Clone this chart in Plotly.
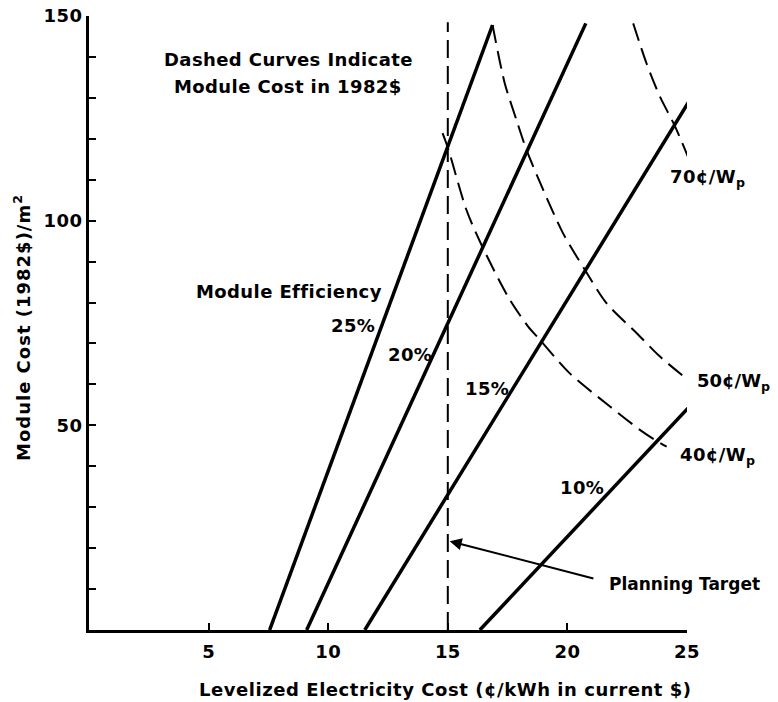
import plotly.graph_objects as go

# ---- data ----
eff_labels = ["25%", "20%", "15%", "10%"]
eff_x = [[7.55, 16.87], [9.1, 20.77], [11.53, 25.08], [16.34, 25.04]]
eff_y = [[0, 147.8], [0, 148.2], [0, 129.1], [0, 54.2]]

c40_x = [14.78, 15.01, 15.78, 16.44, 17.52, 18.36, 18.85, 20.1, 21.78, 23.03, 23.7, 24.15]
c40_y = [121.4, 117.7, 102.6, 93.7, 81.4, 74.1, 70.9, 62.7, 54.6, 48.9, 46.3, 44.8]
c50_x = [16.87, 17.38, 17.87, 18.29, 18.99, 19.82, 20.73, 21.64, 22.9, 23.87, 25.04]
c50_y = [147.8, 133.6, 124.6, 117.3, 107.5, 96.9, 88.0, 79.8, 72.5, 66.8, 61.1]
c70_x = [22.75, 23.31, 23.87, 24.47, 25.13]
c70_y = [148.2, 138.4, 130.3, 123.4, 114.4]

target_x = [15, 15]
target_y = [0, 148.5]

x_ticks = [5, 10, 15, 20, 25]
y_ticks = [50, 100, 150]

FONT = "DejaVu Sans"
PX_PER_X = 598 / 25  # plot width / x range


def sp(t, ls=0.4):
    return f"<span style='letter-spacing:{ls}px'><b>{t}</b></span>"


fig = go.Figure()
for xs, ys in zip(eff_x, eff_y):
    fig.add_trace(go.Scatter(x=xs, y=ys, mode="lines",
                             line=dict(color="black", width=3.5)))
for xs, ys in [(c40_x, c40_y), (c50_x, c50_y), (c70_x, c70_y)]:
    fig.add_trace(go.Scatter(x=xs, y=ys, mode="lines",
                             line=dict(color="black", width=2, dash="18px,8px",
                                       shape="spline", smoothing=0.8)))
fig.add_trace(go.Scatter(x=target_x, y=target_y, mode="lines",
                         line=dict(color="black", width=2, dash="18px,8px")))

ann = []


def add_text(t, x, y, xanchor="center", yanchor="middle", ls=0.4, size=18, xshift=0):
    ann.append(dict(text=sp(t, ls), x=x, y=y, xref="x", yref="y", xshift=xshift,
                    xanchor=xanchor, yanchor=yanchor, showarrow=False,
                    font=dict(family=FONT, size=size, color="black")))


add_text("Dashed Curves Indicate", 8.35, 139.3)
add_text("Module Cost in 1982$", 8.31, 132.9)
add_text("Module Efficiency", 8.35, 82.6)
add_text(eff_labels[0], 11.03, 74.3)
add_text(eff_labels[1], 13.41, 67.4)
add_text(eff_labels[2], 16.63, 59.1)
add_text(eff_labels[3], 20.61, 34.7)
add_text("70¢/W<sub>p</sub>", 24.2, 110.5, xanchor="left")
add_text("50¢/W<sub>p</sub>", 25, 60.6, xanchor="left", xshift=0.34 * PX_PER_X, ls=0)
add_text("40¢/W<sub>p</sub>", 24.62, 42.6, xanchor="left")
add_text("Planning Target", 21.65, 11.2, xanchor="left", ls=0, size=17)

# arrow for planning target
ann.append(dict(x=15.08, y=21.7, ax=21.15, ay=12.5, xref="x", yref="y",
                axref="x", ayref="y", text="", showarrow=True,
                arrowhead=2, arrowsize=1.2, arrowwidth=2, arrowcolor="black"))

# axis titles
ann.append(dict(text=sp("Levelized Electricity Cost (¢/kWh in current $)", 0.55),
                x=(445 - 89) / 598, y=-(689 - 630) / 614, xref="paper", yref="paper",
                xanchor="center", yanchor="middle", showarrow=False,
                font=dict(family=FONT, size=18, color="black")))
ann.append(dict(text=sp("Module Cost (1982$)/m<sup>2</sup>", 1.0),
                x=-(89 - 22) / 598, y=(630 - 328) / 614, xref="paper", yref="paper",
                xanchor="center", yanchor="middle", textangle=-90, showarrow=False,
                font=dict(family=FONT, size=18, color="black")))

# page body has an 8px margin, so the figure is 8px smaller than the window
fig.update_layout(
    width=770, height=694,
    margin=dict(l=81, r=91, t=8, b=72, autoexpand=False),
    paper_bgcolor="white", plot_bgcolor="white",
    showlegend=False,
    annotations=ann,
    font=dict(family=FONT, size=18, color="black"),
)
fig.update_xaxes(range=[0, 25], showgrid=False, zeroline=False, automargin=False,
                 showline=True, linecolor="black", linewidth=3,
                 ticks="inside", ticklen=7, tickwidth=2, tickcolor="black",
                 ticklabelstandoff=3, ticklabeloverflow="allow",
                 tickvals=x_ticks, ticktext=[sp(str(v), 0.4) for v in x_ticks],
                 tickfont=dict(family=FONT, size=18, color="black"))
fig.update_yaxes(range=[0, 150], showgrid=False, zeroline=False, automargin=False,
                 showline=True, linecolor="black", linewidth=3,
                 ticks="inside", ticklen=7, tickwidth=2, tickcolor="black",
                 ticklabeloverflow="allow",
                 tickvals=y_ticks, ticktext=[sp(str(v), 0.4) for v in y_ticks],
                 minor=dict(dtick=10, tick0=0, ticks="inside", ticklen=7,
                            tickwidth=2, tickcolor="black"),
                 tickfont=dict(family=FONT, size=18, color="black"))

fig.write_html("out.html")
